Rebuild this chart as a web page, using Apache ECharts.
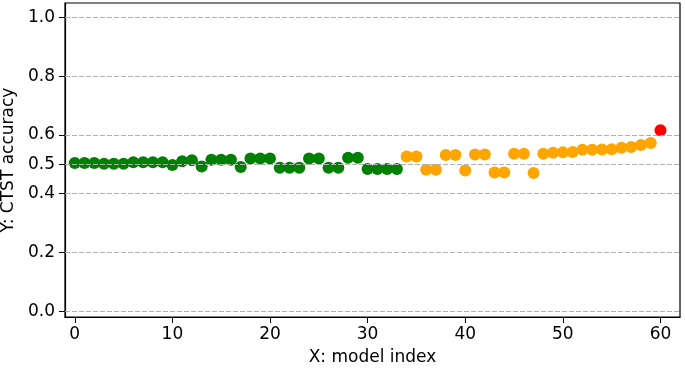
<!DOCTYPE html>
<html>
<head>
<meta charset="utf-8">
<script src="https://cdn.jsdelivr.net/npm/echarts@6/dist/echarts.min.js"></script>
<style>
	html, body { margin: 0; padding: 0; background: #fff; }
	#main { width: 685px; height: 368px; }
</style>
</head>
<body>
<div id="main"></div>
<script>
	// accuracy per model, split by colour group (index continues across groups)
	var greenAcc = [0.5045, 0.5045, 0.5045, 0.502, 0.502, 0.502, 0.507, 0.507, 0.507, 0.507,
		0.498, 0.511, 0.514, 0.493, 0.516, 0.516, 0.516, 0.491, 0.520, 0.520,
		0.520, 0.4886, 0.4886, 0.4886, 0.5205, 0.5205, 0.4886, 0.4886, 0.523, 0.523,
		0.484, 0.484, 0.484, 0.484];
	var orangeAcc = [0.527, 0.527, 0.482, 0.482, 0.532, 0.532, 0.4795, 0.534, 0.534, 0.4727,
		0.4727, 0.536, 0.536, 0.4705, 0.536, 0.540, 0.541, 0.542, 0.550, 0.550,
		0.551, 0.552, 0.557, 0.559, 0.566, 0.573];
	var redAcc = [0.616];
	var yTicks = [0, 0.2, 0.4, 0.5, 0.6, 0.8, 1.0];
	var xTicks = [0, 10, 20, 30, 40, 50, 60];

	var font = 'DejaVu Sans';

	function toPoints(list, start) {
		return list.map(function (v, i) { return [start + i, v]; });
	}
	var greenPts = toPoints(greenAcc, 0);
	var orangePts = toPoints(orangeAcc, greenAcc.length);
	var redPts = toPoints(redAcc, greenAcc.length + orangeAcc.length);

	var myChart = echarts.init(document.getElementById('main'));
	myChart.setOption({
		animation: false,
		grid: {
			left: 65, right: 5, top: 3, bottom: 51,
			outerBoundsMode: 'none',
			containLabel: false,
			show: true, borderColor: '#000', borderWidth: 1.2, backgroundColor: '#fff'
		},
		xAxis: {
			type: 'value',
			min: -1,
			max: 62,
			name: 'X: model index',
			nameLocation: 'middle',
			nameGap: 32,
			nameTextStyle: { fontFamily: font, fontSize: 17, color: '#000' },
			axisLine: { show: true, onZero: false, lineStyle: { color: '#000', width: 1.2 } },
			axisTick: { show: true, length: 6, customValues: xTicks, lineStyle: { color: '#000' } },
			axisLabel: { customValues: xTicks, margin: 9, fontFamily: font, fontSize: 17, color: '#000' },
			splitLine: { show: false }
		},
		yAxis: {
			type: 'value',
			min: -0.02,
			max: 1.05,
			name: 'Y: CTST accuracy',
			nameLocation: 'middle',
			nameGap: 48,
			nameTextStyle: { fontFamily: font, fontSize: 17, color: '#000' },
			axisLine: { show: true, onZero: false, lineStyle: { color: '#000', width: 1.2 } },
			axisTick: { show: true, length: 6, customValues: yTicks, lineStyle: { color: '#000' } },
			axisLabel: {
				customValues: yTicks, margin: 10, fontFamily: font, fontSize: 17, color: '#000',
				formatter: function (v) { return v.toFixed(1); }
			},
			splitLine: { show: false }
		},
		series: [
			{ // dashed horizontal grid at tick values
				type: 'line',
				data: [],
				z: 1,
				markLine: {
					silent: true,
					symbol: ['none', 'none'],
					label: { show: false },
					lineStyle: { color: '#b0b0b0', type: [5, 2], width: 1.2 },
					data: yTicks.map(function (t) { return { yAxis: t }; })
				}
			},
			{ type: 'scatter', z: 3, symbolSize: 12, itemStyle: { color: '#008000', opacity: 1 }, data: greenPts },
			{ type: 'scatter', z: 3, symbolSize: 12, itemStyle: { color: '#ffa500', opacity: 1 }, data: orangePts },
			{ type: 'scatter', z: 3, symbolSize: 12, itemStyle: { color: '#ff0000', opacity: 1 }, data: redPts }
		]
	});
</script>
</body>
</html>
